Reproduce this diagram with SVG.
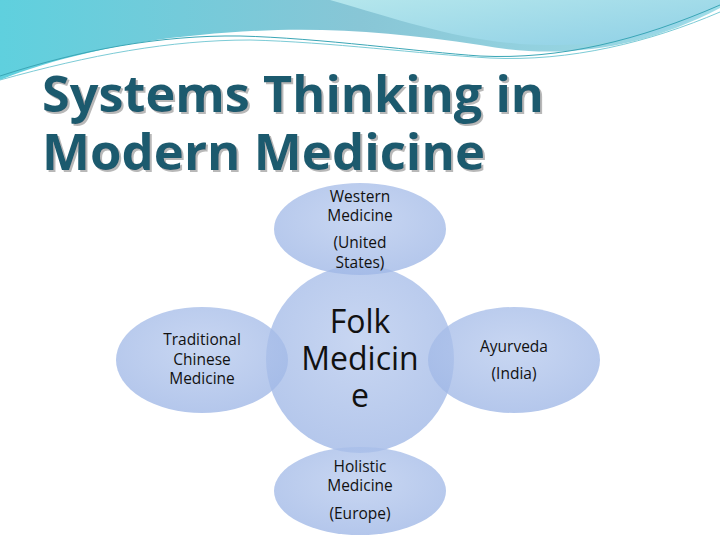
<svg xmlns="http://www.w3.org/2000/svg" width="720" height="540" viewBox="0 0 720 540">
<defs>
<linearGradient id="sky" x1="0" y1="0" x2="1" y2="0"><stop offset="0" stop-color="#5fd0de"/><stop offset="0.5" stop-color="#88c6d6"/><stop offset="1" stop-color="#9fdde8"/></linearGradient>
<linearGradient id="sky2" x1="0" y1="0" x2="1" y2="1"><stop offset="0" stop-color="#b4e6ec"/><stop offset="1" stop-color="#8fd0e6"/></linearGradient>
<radialGradient id="bub" cx="0.5" cy="0.4" r="0.6"><stop offset="0" stop-color="#b9cbee"/><stop offset="1" stop-color="#9fb7e6"/></radialGradient>
<filter id="sh" x="-5%" y="-20%" width="110%" height="140%"><feDropShadow dx="2" dy="2" stdDeviation="0.5" flood-color="#888" flood-opacity="0.6"/></filter>
<style>
.b{fill:url(#bub);fill-opacity:0.78}
.t{font-family:"Open Sans","DejaVu Sans",sans-serif;fill:#111;text-anchor:middle;font-size:15.5px}
.f{font-size:32px}
.title{font-family:"Open Sans","DejaVu Sans",sans-serif;font-weight:bold;font-size:50px;fill:#1d5a6e;filter:url(#sh)}
</style>
</defs>
<rect width="720" height="540" fill="#fff"/>
<path d="M0 0 H720 V8 C640 50 560 60 480 45 C380 30 300 25 200 35 C120 42 50 60 0 80 Z" fill="url(#sky)"/>
<path d="M330 0 H720 V5 C660 40 600 48 520 44 C450 38 400 20 330 0 Z" fill="url(#sky2)"/>
<path d="M0 76 C80 50 160 35 240 36 C320 38 420 52 480 56 C560 60 640 40 720 5" fill="none" stroke="#3aa6b6" stroke-width="1"/>
<path d="M0 80 C90 55 170 40 250 40 C330 42 420 54 490 58 C570 62 650 42 720 12" fill="none" stroke="#7ccbd6" stroke-width="1"/>
<text class="title" x="42" y="112" textLength="502" lengthAdjust="spacingAndGlyphs">Systems Thinking in</text>
<text class="title" x="42" y="170" textLength="443" lengthAdjust="spacingAndGlyphs">Modern Medicine</text>
<g id="center"><circle class="b" cx="360" cy="359" r="94"/>
<text class="t f" x="360" y="333">Folk</text><text class="t f" x="360" y="370">Medicin</text><text class="t f" x="360" y="407">e</text></g>
<g id="top"><ellipse class="b" cx="360" cy="229" rx="86" ry="46"/>
<text class="t" x="360" y="202">Western</text><text class="t" x="360" y="221">Medicine</text><text class="t" x="360" y="248">(United</text><text class="t" x="360" y="268">States)</text></g>
<g id="left"><ellipse class="b" cx="202" cy="360" rx="86" ry="53"/>
<text class="t" x="202" y="345">Traditional</text><text class="t" x="202" y="365">Chinese</text><text class="t" x="202" y="384">Medicine</text></g>
<g id="right"><ellipse class="b" cx="514" cy="360" rx="86" ry="53"/>
<text class="t" x="514" y="352">Ayurveda</text><text class="t" x="514" y="379">(India)</text></g>
<g id="bottom"><ellipse class="b" cx="360" cy="491" rx="86" ry="44"/>
<text class="t" x="360" y="472">Holistic</text><text class="t" x="360" y="491">Medicine</text><text class="t" x="360" y="519">(Europe)</text></g>
<g id="connectors"/>
</svg>
